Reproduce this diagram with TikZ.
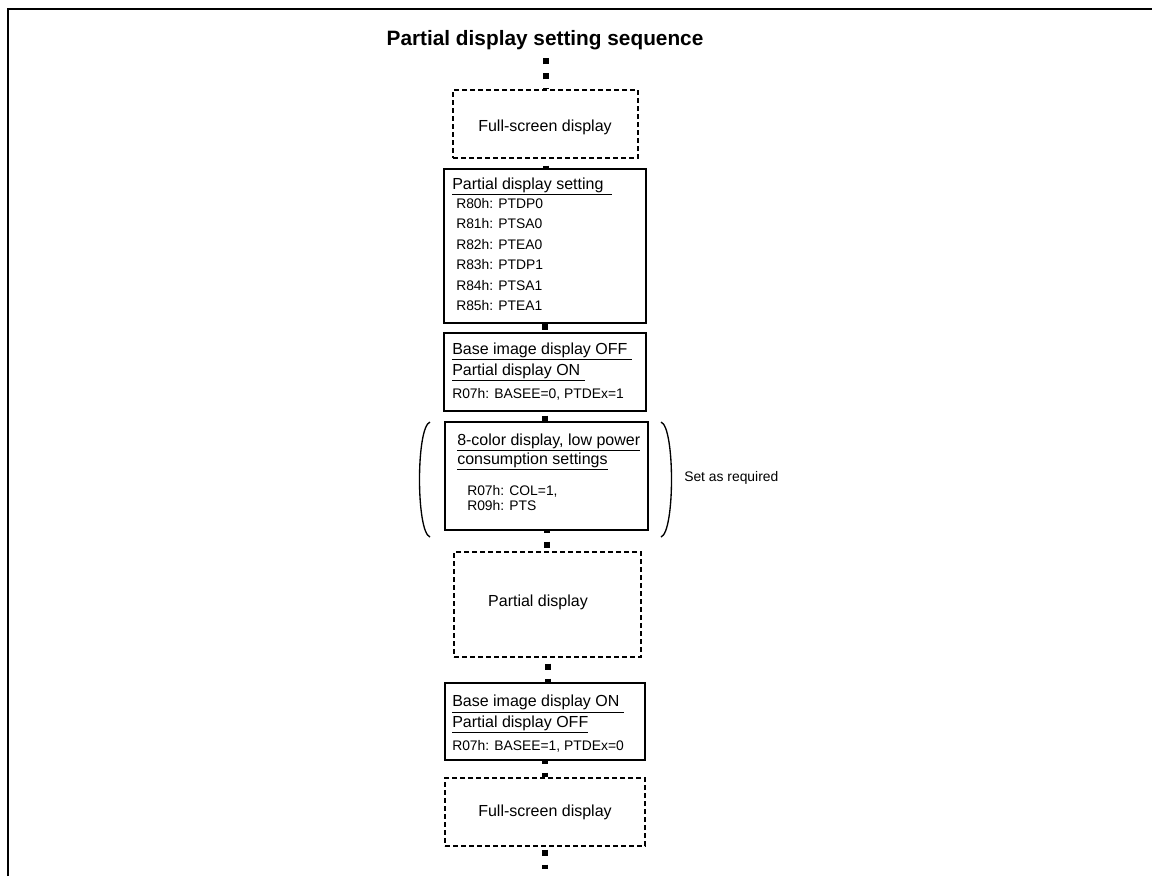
\documentclass[tikz,border=0pt]{standalone}
\usepackage{fontspec}
\setmainfont{Liberation Sans}

\begin{document}
\begin{tikzpicture}[x=0.75pt, y=-0.75pt,
    box/.style={draw, line width=0.9pt, inner sep=0},
    dbox/.style={box, line width=0.8pt, dash pattern=on 3.75pt off 2.25pt},
    txt/.style={anchor=base, inner sep=0, font=\fontsize{12}{14}\selectfont},
    head/.style={anchor=base west, inner sep=0, font=\fontsize{12}{14}\selectfont},
    reg/.style={anchor=base west, inner sep=0, font=\fontsize{10.4}{12}\selectfont},
    link/.style={line width=4.5pt, dash pattern=on 4.5pt off 6.75pt}]
  \useasboundingbox (0,0) rectangle (1152,876);
  \draw[line width=1.5pt] (7.8,876) -- (7.8,9) -- (1152,9);
  \node[anchor=base, inner sep=2pt, font=\fontsize{15.6}{18}\selectfont\bfseries] (title) at (545,45) {Partial display setting sequence};

  % boxes
  \node[dbox, minimum width=138.75pt, minimum height=51pt] (full1) at (545.5,124) {};
  \node[box, minimum width=151.5pt, minimum height=115.5pt] (ptset) at (545,246) {};
  \node[box, minimum width=151.5pt, minimum height=58.5pt] (baseoff) at (545,372) {};
  \node[box, minimum width=152.25pt, minimum height=81pt] (lowpow) at (546.5,476) {};
  \node[dbox, minimum width=140.25pt, minimum height=78.75pt] (partial) at (547.5,604.5) {};
  \node[box, minimum width=150pt, minimum height=57.75pt] (baseon) at (545,721.5) {};
  \node[dbox, minimum width=150pt, minimum height=51pt] (full2) at (545,812) {};
  \coordinate (tail) at (545,869);

  % texts
  \node[txt] (full1txt) at (545,131.7) {Full-screen display};
  \node[head] (ptsethd) at (452,189.3) {\underline{Partial display setting\ \ }};
  \foreach \addr/\fld [count=\i from 0] in {80/PTDP0,81/PTSA0,82/PTEA0,83/PTDP1,84/PTSA1,85/PTEA1}
    \node[reg] (reg\addr) at (456,208.3+20.5*\i) {R\addr h: \fld};
  \node[head] (offhd1) at (452,354.3) {\underline{Base image display OFF\ }};
  \node[head] (offhd2) at (452,375) {\underline{Partial display ON\ }};
  \node[reg] (offreg) at (452,398.3) {R07h: BASEE=0, PTDEx=1};
  \node[head] (powhd1) at (457,445) {\underline{8-color display, low power}};
  \node[head] (powhd2) at (457,464) {\underline{consumption settings}};
  \node[reg] (powreg1) at (467,495) {R07h: COL=1,};
  \node[reg] (powreg2) at (467,510.7) {R09h: PTS};
  \node[txt] (partialtxt) at (538,606.7) {Partial display};
  \node[head] (onhd1) at (452,706.7) {\underline{Base image display ON\ }};
  \node[head] (onhd2) at (452,727.3) {\underline{Partial display OFF}};
  \node[reg] (onreg) at (452,750) {R07h: BASEE=1, PTDEx=0};
  \node[txt] (full2txt) at (545,816.7) {Full-screen display};

  % brackets
  \draw[line width=1pt] (430,422) .. controls (416,427) and (416,532) .. (430,537);
  \draw[line width=1pt] (661,422) .. controls (675,427) and (675,532) .. (661,537);
  \node[reg] (req) at (684,481) {Set as required};

  % connectors
  \draw[link, dash phase=3.75pt] (full1.north) -- (full1.north |- title.south);
  \draw[link, dash phase=6pt] (full1.south) -- (full1.south |- ptset.north);
  \draw[link] (ptset.south) -- (baseoff.north);
  \draw[link, dash phase=8.25pt] (baseoff.south) -- (baseoff.south |- lowpow.north);
  \draw[link, dash phase=3pt] (lowpow.south) -- (lowpow.south |- partial.north);
  \draw[link, dash phase=6.75pt] (partial.south) -- (partial.south |- baseon.north);
  \draw[link, dash phase=2.25pt] (baseon.south) -- (full2.north);
  \draw[link, dash phase=9pt] (full2.south) -- (tail);
\end{tikzpicture}
\end{document}
